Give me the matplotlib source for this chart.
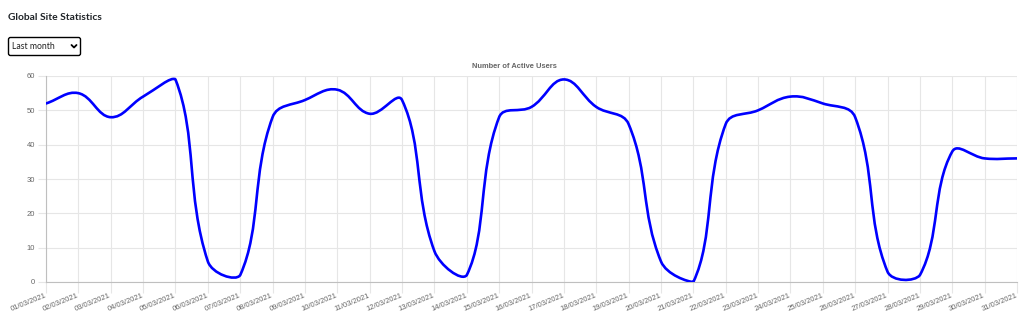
import numpy as np
import matplotlib
matplotlib.use("Agg")
import matplotlib.pyplot as plt
from matplotlib.path import Path
from matplotlib.patches import PathPatch, FancyBboxPatch

# ---- data ----
dates = [f"{d:02d}/03/2021" for d in range(1, 32)]
active_users = [52, 55, 48, 54, 59, 6, 2, 48, 53, 56, 49, 53, 9, 2, 48, 51,
                59, 51, 46, 6, 0, 46, 50, 54, 52, 48, 3, 2, 38, 36, 36]
y_ticks = [0, 10, 20, 30, 40, 50, 60]

page_title = "Global Site Statistics"
chart_title = "Number of Active Users"
dropdown_text = "Last month"

W, H = 1024, 320
fig = plt.figure(figsize=(W / 100, H / 100), dpi=100)
fig.patch.set_facecolor("white")

ax_l, ax_r, ax_t, ax_b = 46, 1017, 76, 282
ax = fig.add_axes([ax_l / W, 1 - ax_b / H, (ax_r - ax_l) / W, (ax_b - ax_t) / H])

n = len(active_users)
xs = np.arange(n)
ax.set_xlim(0, n - 1)
ax.set_ylim(0, 60)

grid_c = "#e6e6e6"
zero_c = "#bfbfbf"
lab_c = "#666666"
fs = 5.5
fam = ["Liberation Sans", "DejaVu Sans"]

ax.set_xticks(xs)
ax.set_xticklabels(dates, rotation=22, ha="right", rotation_mode="anchor",
                   va="center", fontsize=fs, color=lab_c, family=fam)
ax.set_yticks(y_ticks)
ax.set_yticklabels([str(v) for v in y_ticks], fontsize=fs, color=lab_c, family=fam)
ax.tick_params(axis="x", length=8, width=0.8, color=grid_c, pad=1.5)
ax.tick_params(axis="y", length=6, width=0.8, color=grid_c, pad=2)
ax.grid(True, color=grid_c, linewidth=0.8)
ax.set_axisbelow(True)
for s in ["top", "right"]:
    ax.spines[s].set_visible(False)
for s in ["left", "bottom"]:
    ax.spines[s].set_color(zero_c)
    ax.spines[s].set_linewidth(0.8)

# ---- Chart.js-style cubic bezier (tension 0.4, capped to chart area) ----
fig.canvas.draw()
pts = ax.transData.transform(np.column_stack([xs, active_users]))
tension = 0.4
cps_prev, cps_next = [], []
for i in range(n):
    prev = pts[i - 1] if i > 0 else pts[i]
    cur = pts[i]
    nxt = pts[i + 1] if i < n - 1 else pts[i]
    d01 = np.hypot(*(cur - prev))
    d12 = np.hypot(*(nxt - cur))
    tot = d01 + d12
    s01 = d01 / tot if tot else 0
    s12 = d12 / tot if tot else 0
    fa, fb = tension * s01, tension * s12
    cps_prev.append(cur - fa * (nxt - prev))
    cps_next.append(cur + fb * (nxt - prev))
inv = ax.transData.inverted()
def to_data(p):
    d = inv.transform(p)
    return [min(max(d[0], 0), n - 1), min(max(d[1], 0), 60)]
verts = [list(inv.transform(pts[0]))]
codes = [Path.MOVETO]
for i in range(1, n):
    verts += [to_data(cps_next[i - 1]), to_data(cps_prev[i]), list(inv.transform(pts[i]))]
    codes += [Path.CURVE4] * 3
ax.add_patch(PathPatch(Path(verts, codes), facecolor="none", edgecolor="#0000ff",
                       linewidth=1.9, capstyle="round", joinstyle="round", zorder=3))

# ---- chart title ----
fig.text(514 / W, 1 - 66 / H, chart_title, ha="center", va="center", fontsize=5.4,
         fontweight="bold", color=lab_c, family=fam)

# ---- page header and dropdown ----
ov = fig.add_axes([0, 0, 1, 1], zorder=5)
ov.set_xlim(0, W)
ov.set_ylim(H, 0)
ov.axis("off")
ov.patch.set_alpha(0)
ov.text(8, 18, page_title, ha="left", va="center", fontsize=7.4, fontweight="bold",
        color="#212529", family=["Lato", "DejaVu Sans"])
ov.add_patch(FancyBboxPatch((8.5, 37.5), 72, 18, boxstyle="round,pad=0,rounding_size=2",
                            facecolor="white", edgecolor="#000000", linewidth=1.0))
ov.text(12, 46.8, dropdown_text, ha="left", va="center", fontsize=6.2,
        color="#222222", family=["Lato", "DejaVu Sans"])
ov.plot([71.5, 74, 76.5], [45, 47.5, 45], color="#000000", linewidth=1.3,
        solid_capstyle="round", solid_joinstyle="round")

fig.savefig("out.png", dpi=100, facecolor="white")
